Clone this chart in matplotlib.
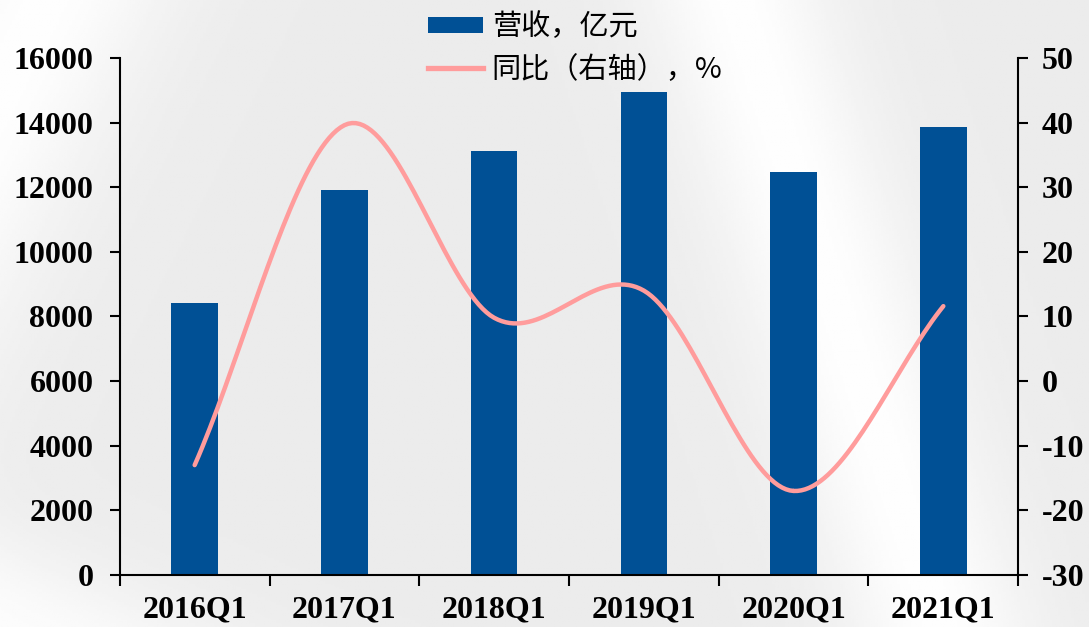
import matplotlib
matplotlib.use('Agg')
import matplotlib.pyplot as plt
import numpy as np
from matplotlib.patches import Patch
from matplotlib.lines import Line2D

# data
quarters = ['2016Q1', '2017Q1', '2018Q1', '2019Q1', '2020Q1', '2021Q1']
revenue = [8420, 11920, 13120, 14950, 12480, 13870]   # 营收, 亿元
yoy = [-13.0, 39.6, 9.8, 14.0, -17.0, 11.6]            # 同比, %

BAR_COLOR = '#005095'
LINE_COLOR = '#FF9C9C'

plt.rcParams['font.family'] = ['Liberation Serif']
plt.rcParams['font.weight'] = 'bold'
plt.rcParams['font.size'] = 16
plt.rcParams['axes.unicode_minus'] = False


def catmull_rom(x, y, n=40):
    # Excel-style smoothed line through the points
    x = np.asarray(x, float)
    y = np.asarray(y, float)
    px = np.concatenate([[2 * x[0] - x[1]], x, [2 * x[-1] - x[-2]]])
    py = np.concatenate([[2 * y[0] - y[1]], y, [2 * y[-1] - y[-2]]])
    xs, ys = [], []
    t = np.linspace(0, 1, n)
    for i in range(1, len(px) - 2):
        p0, p1, p2, p3 = px[i - 1:i + 3]
        q0, q1, q2, q3 = py[i - 1:i + 3]
        xs.append(0.5 * (2 * p1 + (-p0 + p2) * t + (2 * p0 - 5 * p1 + 4 * p2 - p3) * t ** 2
                         + (-p0 + 3 * p1 - 3 * p2 + p3) * t ** 3))
        ys.append(0.5 * (2 * q1 + (-q0 + q2) * t + (2 * q0 - 5 * q1 + 4 * q2 - q3) * t ** 2
                         + (-q0 + 3 * q1 - 3 * q2 + q3) * t ** 3))
    return np.concatenate(xs), np.concatenate(ys)


def main() -> None:
    fig = plt.figure(figsize=(10.89, 6.27), dpi=100)

    # soft grey background with light diagonal streaks
    bg = fig.add_axes([0, 0, 1, 1], zorder=-10)
    gx, gy = np.meshgrid(np.linspace(0, 1089, 400), np.linspace(0, 627, 240))
    img = np.full(gx.shape, 0.925)
    d1 = (gx * 0.95 - gy * 0.31 - 700) / 90
    img += 0.07 * np.exp(-d1 ** 2)
    d2 = (gx * 0.9 + gy * 0.45 - 40) / 110
    img += 0.07 * np.exp(-d2 ** 2)
    d3 = (gx * 0.4 - gy * 0.9 + 560) / 80
    img += 0.06 * np.exp(-d3 ** 2)
    img = np.clip(img, 0, 1)
    bg.imshow(img, cmap='gray', vmin=0, vmax=1, aspect='auto', extent=[0, 1, 0, 1])
    bg.axis('off')

    ax = fig.add_axes([0.110, 0.083, 0.825, 0.8245])
    ax.patch.set_alpha(0)
    x = np.arange(len(quarters))
    ax.bar(x, revenue, width=0.31, color=BAR_COLOR, zorder=2)
    ax.set_xlim(-0.5, len(quarters) - 0.5)
    ax.set_ylim(0, 16000)
    ax.set_yticks(np.arange(0, 16001, 2000))
    ax.set_xticks(np.arange(-0.5, len(quarters), 1.0))
    ax.set_xticklabels([])
    ax.set_xticks(x, minor=True)
    ax.set_xticklabels(quarters, minor=True)
    ax.tick_params(axis='x', which='minor', length=0, pad=15, labelsize=23)
    ax.tick_params(axis='x', which='major', direction='out', length=8, width=1.5)
    ax.tick_params(axis='y', direction='out', length=7, width=1.5, pad=12, labelsize=23)
    for s in ['top', 'right']:
        ax.spines[s].set_visible(False)
    for s in ['left', 'bottom']:
        ax.spines[s].set_linewidth(1.5)

    ax2 = ax.twinx()
    sx, sy = catmull_rom(x, yoy)
    ax2.plot(sx, sy, color=LINE_COLOR, linewidth=3.2, solid_capstyle='round', zorder=3)
    ax2.set_ylim(-30, 50)
    ax2.set_yticks(np.arange(-30, 51, 10))
    ax2.tick_params(axis='y', direction='out', length=7, width=1.5, pad=10, labelsize=23)
    for s in ['top', 'left', 'bottom']:
        ax2.spines[s].set_visible(False)
    ax2.spines['right'].set_linewidth(1.5)

    handles = [Patch(facecolor=BAR_COLOR),
               Line2D([0], [0], color=LINE_COLOR, linewidth=3.8)]
    fig.legend(handles, ['营收，亿元', '同比（右轴），%'], loc='upper center',
               bbox_to_anchor=(0.528, 1.022), frameon=False, handlelength=1.9,
               handleheight=0.5, labelspacing=0.42, handletextpad=0.3,
               prop={'family': ['Noto Sans CJK SC', 'DejaVu Sans'], 'size': 21,
                     'weight': 'normal'})

    fig.savefig('out.png', dpi=100)


if __name__ == "__main__":
    main()
